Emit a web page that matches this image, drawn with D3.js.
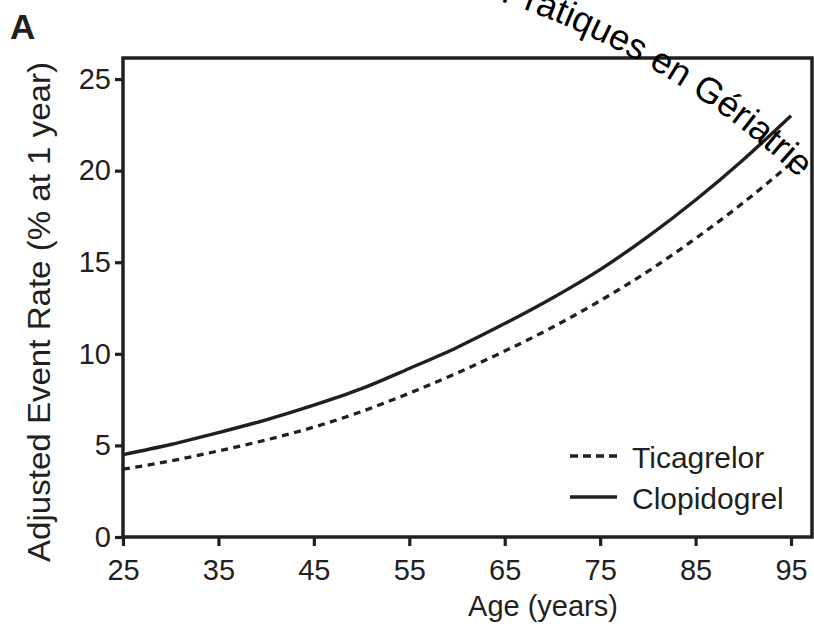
<!DOCTYPE html>
<html>
<head>
<meta charset="utf-8">
<script src="https://cdn.jsdelivr.net/npm/d3@7"></script>
<style>
  body { margin: 0; background: #fff; }
  text { font-family: "Liberation Sans", Arial, sans-serif; fill: #231f20; }
</style>
</head>
<body>
<div id="chart-area"></div>
<script>
// values (adjusted event rate, % at 1 year)
var ages = [25, 30, 35, 40, 45, 50, 55, 60, 65, 70, 75, 80, 85, 90, 95];
var ticagrelor = [3.7, 4.15, 4.7, 5.3, 6.0, 6.85, 7.85, 8.95, 10.15, 11.45, 12.9, 14.5, 16.3, 18.25, 20.4];
var clopidogrel = [4.5, 5.05, 5.7, 6.4, 7.2, 8.1, 9.2, 10.35, 11.65, 13.05, 14.6, 16.4, 18.4, 20.6, 23.0];
var xTicks = [25, 35, 45, 55, 65, 75, 85, 95];
var yTicks = [0, 5, 10, 15, 20, 25];
var legendNames = ["Ticagrelor", "Clopidogrel"];

var margin = { top: 58, right: 2, bottom: 95, left: 123 },
    width = 814 - margin.left - margin.right,
    height = 632 - margin.top - margin.bottom;

var ink = "#231f20";

var svg = d3.select("#chart-area").append("svg")
    .attr("width", 814)
    .attr("height", 632);

var g = svg.append("g")
    .attr("transform", "translate(" + margin.left + ", " + margin.top + ")");

var x = d3.scaleLinear().domain([25, 97.2]).range([0, width]);
var y = d3.scaleLinear().domain([0, 26.15]).range([height, 0]);

// axes
var xAxisGroup = g.append("g")
    .attr("transform", "translate(0, " + height + ")")
    .call(d3.axisBottom(x).tickValues(xTicks).tickSize(9).tickPadding(13));
var yAxisGroup = g.append("g")
    .call(d3.axisLeft(y).tickValues(yTicks).tickSize(8).tickPadding(4));

[xAxisGroup, yAxisGroup].forEach(function (ax) {
    ax.select(".domain").remove();
    ax.selectAll("line").attr("stroke", ink).attr("stroke-width", 3.2);
    ax.selectAll("text")
        .style("font-family", "'Liberation Sans', Arial, sans-serif")
        .style("font-size", "29px")
        .attr("fill", ink);
});

// frame
g.append("rect")
    .attr("x", 0).attr("y", 0)
    .attr("width", width).attr("height", height)
    .attr("fill", "none")
    .attr("stroke", ink)
    .attr("stroke-width", 3.5);

// lines
var line = d3.line()
    .x(function (d) { return x(d[0]); })
    .y(function (d) { return y(d[1]); })
    .curve(d3.curveMonotoneX);

g.append("path")
    .datum(d3.zip(ages, ticagrelor))
    .attr("d", line)
    .attr("fill", "none")
    .attr("stroke", ink)
    .attr("stroke-width", 3.3)
    .attr("stroke-dasharray", "7,5.5");

g.append("path")
    .datum(d3.zip(ages, clopidogrel))
    .attr("d", line)
    .attr("fill", "none")
    .attr("stroke", ink)
    .attr("stroke-width", 3.4);

// legend
var legend = svg.append("g").attr("transform", "translate(570, 456)");
legend.selectAll("line")
    .data(legendNames)
    .enter().append("line")
    .attr("x1", 0).attr("x2", 47)
    .attr("y1", function (d, i) { return i * 41; })
    .attr("y2", function (d, i) { return i * 41; })
    .attr("stroke", ink)
    .attr("stroke-width", 3.3)
    .attr("stroke-dasharray", function (d, i) { return i === 0 ? "8,5" : null; });
legend.selectAll("text")
    .data(legendNames)
    .enter().append("text")
    .attr("x", 62)
    .attr("y", function (d, i) { return i * 41 + 12; })
    .style("font-size", "30px")
    .text(function (d) { return d; });

// axis titles
svg.append("text")
    .attr("x", 543)
    .attr("y", 616)
    .attr("text-anchor", "middle")
    .style("font-size", "29px")
    .text("Age (years)");

svg.append("text")
    .attr("transform", "translate(50, 312) rotate(-90)")
    .attr("text-anchor", "middle")
    .attr("textLength", 500)
    .attr("lengthAdjust", "spacingAndGlyphs")
    .style("font-size", "31px")
    .text("Adjusted Event Rate (% at 1 year)");

// panel letter
svg.append("text")
    .attr("x", 10)
    .attr("y", 39)
    .style("font-size", "35px")
    .style("font-weight", "bold")
    .text("A");

// curved watermark text: "atiques" starts near pA, the string ends near pB
var wmSize = 36;
var pA = [534, 13], pB = [801, 180], R = 800;
var mid = [(pA[0] + pB[0]) / 2, (pA[1] + pB[1]) / 2];
var dx = pB[0] - pA[0], dy = pB[1] - pA[1];
var chord = Math.sqrt(dx * dx + dy * dy);
var h = Math.sqrt(R * R - chord * chord / 4);
var cx = mid[0] - dy / chord * h, cy = mid[1] + dx / chord * h;
var phiA = Math.atan2(pA[0] - cx, cy - pA[1]);
var phi0 = phiA - 0.15, phi1 = phiA + 0.6;
var arcPath = "M" + (cx + R * Math.sin(phi0)) + "," + (cy - R * Math.cos(phi0)) +
    " A" + R + "," + R + " 0 0 1 " + (cx + R * Math.sin(phi1)) + "," + (cy - R * Math.cos(phi1));

svg.append("defs").append("path")
    .attr("id", "wm-arc")
    .attr("d", arcPath);

// width of the leading "Pr", which falls off the top edge
var probe = svg.append("text").style("font-size", wmSize + "px").text("Pr");
var prWidth = probe.node().getComputedTextLength();
probe.remove();

svg.append("text")
    .style("font-size", wmSize + "px")
    .style("fill", "#000")
    .append("textPath")
    .attr("href", "#wm-arc")
    .attr("startOffset", R * 0.15 - prWidth)
    .text("Pratiques en Gériatrie");
</script>
</body>
</html>
